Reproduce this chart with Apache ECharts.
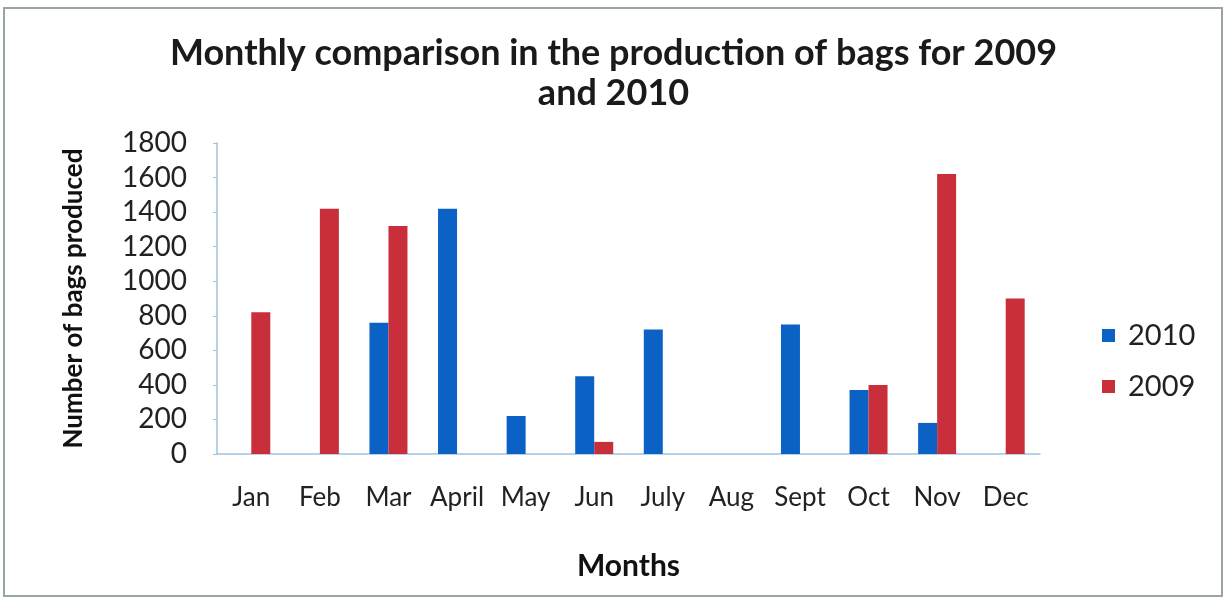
<!DOCTYPE html>
<html>
<head>
<meta charset="utf-8">
<script src="https://cdn.jsdelivr.net/npm/echarts@6/dist/echarts.min.js"></script>
<style>
  html, body { margin: 0; padding: 0; background: #fff; }
  #main { width: 1227px; height: 600px; }
</style>
</head>
<body>
<div id="main"></div>
<script>
// data
const months = ['Jan', 'Feb', 'Mar', 'April', 'May', 'Jun', 'July', 'Aug', 'Sept', 'Oct', 'Nov', 'Dec'];
const bags2010 = [null, null, 760, 1420, 220, 450, 720, null, 750, 370, 180, null];
const bags2009 = [820, 1420, 1320, null, null, 70, null, null, null, 400, 1620, 900];
const yTicks = [0, 200, 400, 600, 800, 1000, 1200, 1400, 1600, 1800];

const font = 'Lato';
const chart = echarts.init(document.getElementById('main'));

chart.setOption({
  animation: false,
  textStyle: { fontFamily: font },
  title: {
    text: 'Monthly comparison in the production of bags for 2009\nand 2010',
    left: 'center',
    top: 28,
    textStyle: { fontSize: 36, fontWeight: 'bold', color: '#1a1a1a', lineHeight: 40, fontFamily: font }
  },
  graphic: [{
    type: 'rect',
    shape: { x: 4, y: 8, width: 1218, height: 588 },
    style: { fill: 'none', stroke: '#9aa6a0', lineWidth: 2 },
    silent: true
  }],
  legend: {
    orient: 'vertical',
    left: 1097,
    top: 316,
    itemWidth: 13,
    itemHeight: 13,
    itemGap: 22,
    icon: 'rect',
    textStyle: { fontSize: 29, color: '#222', fontFamily: font, padding: [0, 0, 0, 8] },
    data: ['2010', '2009']
  },
  grid: { left: 217, right: 187, top: 143, bottom: 146, containLabel: false },
  xAxis: {
    type: 'category',
    data: months,
    name: 'Months',
    nameLocation: 'middle',
    nameGap: 97,
    nameTextStyle: { fontSize: 30, fontWeight: 'bold', color: '#111', fontFamily: font },
    axisLine: { lineStyle: { color: '#9ec4de', width: 1.5 } },
    axisTick: { show: false },
    axisLabel: { fontSize: 26, color: '#222', margin: 31, interval: 0, fontFamily: font }
  },
  yAxis: {
    type: 'value',
    min: yTicks[0],
    max: yTicks[yTicks.length - 1],
    interval: 200,
    name: 'Number of bags produced',
    nameLocation: 'middle',
    nameGap: 130,
    nameTextStyle: { fontSize: 26, fontWeight: 'bold', color: '#111', fontFamily: font },
    axisLine: { show: true, lineStyle: { color: '#9ec4de', width: 1.5 } },
    axisTick: { show: true, length: 4, lineStyle: { color: '#9ec4de' } },
    splitLine: { show: false },
    axisLabel: { fontSize: 28, color: '#222', margin: 30, fontFamily: font, formatter: v => String(v) }
  },
  series: [
    {
      name: '2010',
      type: 'bar',
      data: bags2010,
      barWidth: 19,
      barGap: '0%',
      itemStyle: { color: '#0b62c4' }
    },
    {
      name: '2009',
      type: 'bar',
      data: bags2009,
      barWidth: 19,
      barGap: '0%',
      itemStyle: { color: '#c92f3a' }
    }
  ]
});
</script>
</body>
</html>
